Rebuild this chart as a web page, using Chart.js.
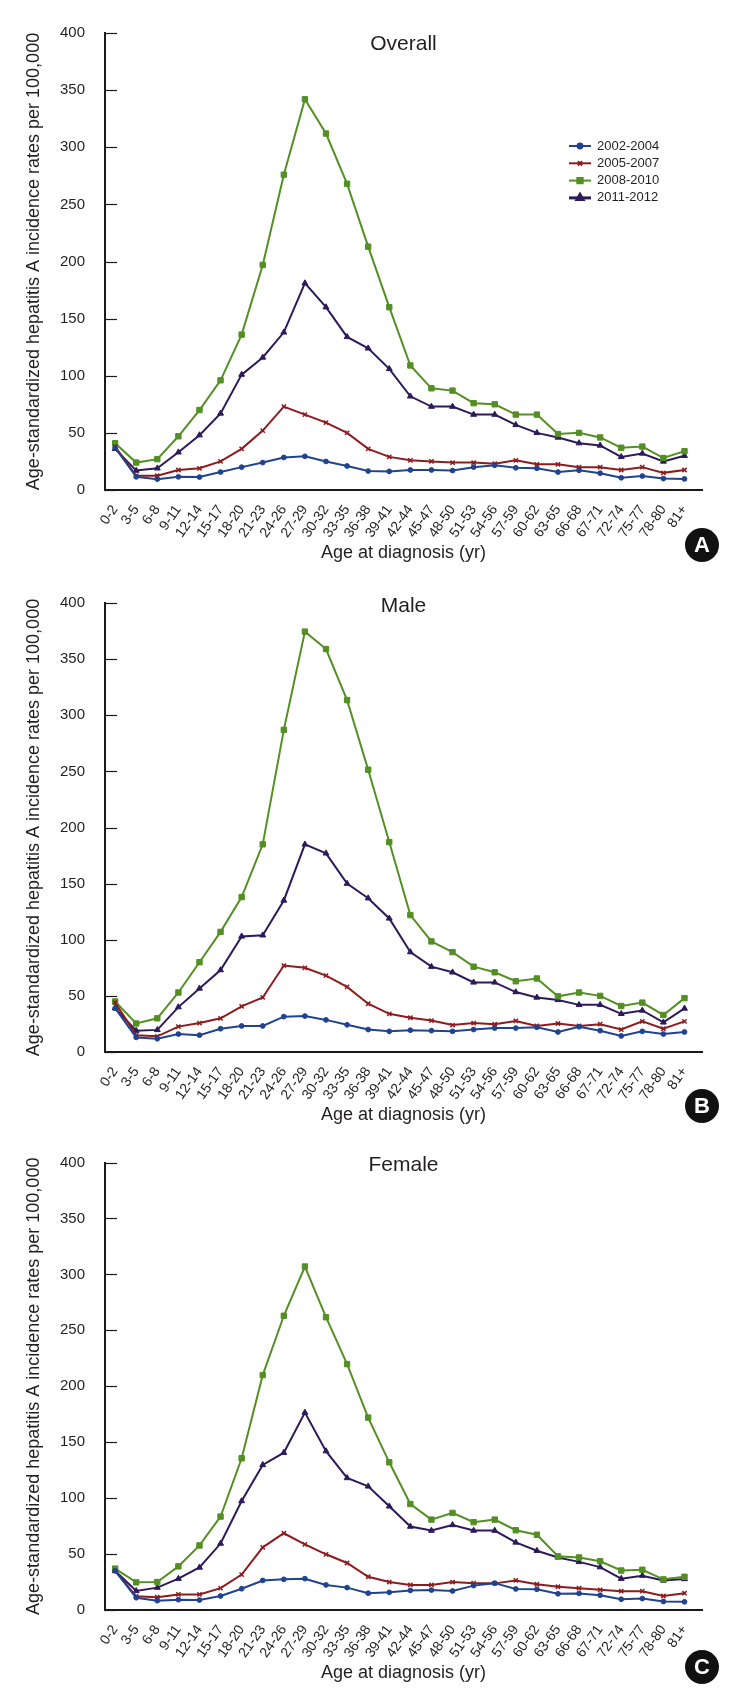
<!DOCTYPE html>
<html>
<head>
<meta charset="utf-8">
<script src="https://cdn.jsdelivr.net/npm/chart.js@4.4.1/dist/chart.umd.min.js"></script>
<style>
    body { margin: 0; background: #fff; width: 731px; height: 1699px; position: relative; overflow: hidden; }
    .panel { position: absolute; left: 0; width: 731px; }
    canvas { display: block; }
</style>
</head>
<body>
<div class="panel" style="top:0px"><canvas id="chartA" width="731" height="568"></canvas></div>
<div class="panel" style="top:568px"><canvas id="chartB" width="731" height="562"></canvas></div>
<div class="panel" style="top:1130px"><canvas id="chartC" width="731" height="558"></canvas></div>
<script>
const ageGroups = ['0-2', '3-5', '6-8', '9-11', '12-14', '15-17', '18-20', '21-23', '24-26', '27-29',
    '30-32', '33-35', '36-38', '39-41', '42-44', '45-47', '48-50', '51-53', '54-56', '57-59',
    '60-62', '63-65', '66-68', '67-71', '72-74', '75-77', '78-80', '81+'];
const periods = ['2002-2004', '2005-2007', '2008-2010', '2011-2012'];
const yMax = 400;
const yStep = 50;

// Overall
const overall2002 = [37, 11.5, 9.5, 11.5, 11.3, 15.7, 20, 24, 28.5, 29.5, 25, 21, 16.6, 16.3, 17.5, 17.5, 17, 20, 21.6, 19.4, 19, 15.7, 17.2, 14.7, 10.7, 12.2, 10, 9.7];
const overall2005 = [38, 12.5, 12.5, 17.5, 19, 25, 36, 52, 73, 66, 59, 50, 36, 29, 26, 25, 24, 24, 23, 26, 22.5, 22.5, 20, 20, 17.5, 20, 15, 17.5];
const overall2008 = [41, 24, 27, 47, 70, 96, 136, 197, 276, 342, 312, 268, 213, 160, 109, 89, 87, 76, 75, 66, 66, 49, 50, 46, 37, 38, 28, 34];
const overall2011 = [36, 17, 19, 33, 48, 67, 101, 116, 138, 181, 160, 134, 124, 106, 82, 73, 73, 66, 66, 57, 50, 46, 41, 39, 29, 32, 25, 30];

// Male
const male2002 = [39, 13, 11.8, 16, 15, 20.7, 23.2, 23.2, 31.5, 32, 28.6, 24.2, 20, 18.4, 19.4, 19, 18.4, 20, 21.3, 21.3, 22, 17.8, 22.5, 19, 14.3, 18.4, 16, 17.8];
const male2005 = [44, 15, 14, 22.6, 25.8, 30, 40.7, 48.6, 77, 75, 68, 58, 43, 34, 30.5, 28, 24, 25.8, 24.8, 27.7, 23.2, 25.4, 23.2, 24.8, 20, 27.3, 20.7, 27.3];
const male2008 = [45, 25.4, 30, 53, 80, 107, 138, 185, 287, 374.5, 359, 313.5, 251.5, 187, 122, 98.5, 89, 76, 71, 63, 65.5, 49.6, 53, 50, 41, 44, 33, 48];
const male2011 = [39, 19, 19.7, 40, 56.6, 73, 103, 104, 135, 185, 177, 150, 137, 119, 89, 76, 71, 62, 62, 53.4, 48.6, 46.4, 42, 42, 34, 37, 26.4, 38.8];

// Female
const female2002 = [35, 11, 8.3, 9.2, 8.9, 12.5, 19, 26.4, 27.4, 28, 22.4, 20, 15, 15.8, 17.5, 17.8, 17, 21.8, 24, 18.8, 18.5, 14.5, 14.8, 13.2, 9.6, 10.2, 7.6, 7.3];
const female2005 = [35, 12.2, 11.5, 13.9, 13.9, 19.5, 31.7, 56, 68.6, 58.7, 49.8, 42, 29.7, 25, 22.4, 22.4, 25, 24, 23.8, 26.4, 23, 20.8, 19.5, 18, 16.8, 16.8, 12.5, 15];
const female2008 = [37, 24.7, 25, 39, 57.7, 83.5, 135.6, 210, 263, 307, 261.7, 219.8, 172, 132, 94.7, 80.8, 86.8, 78.5, 80.8, 71.3, 67.3, 48, 47, 43.6, 35.3, 36, 27.4, 29.7];
const female2011 = [35, 17, 20, 28, 38, 59.4, 97.4, 129.7, 140.6, 176.5, 142, 118, 110.5, 92.7, 74.6, 71, 76, 71, 71, 60.4, 53, 47, 43, 38.3, 28, 30.7, 26.4, 27.7];

const seriesStyle = [
    { color: '#1f4390', pointStyle: 'circle', radius: 2.4, pointWidth: 1 },
    { color: '#8e1b1e', pointStyle: 'crossRot', radius: 3, pointWidth: 1.5 },
    { color: '#548f24', pointStyle: 'rect', radius: 3.8, pointWidth: 1 },
    { color: '#2c1a5a', pointStyle: 'triangle', radius: 3.4, pointWidth: 1 },
];

const FONT = '"Liberation Sans", Arial, sans-serif';
const TEXT = '#231f20';
Chart.defaults.font.family = FONT;
Chart.defaults.color = TEXT;

const panelDecor = {
    id: 'panelDecor',
    afterDatasetsDraw(chart, args, opts) {
        const { ctx, chartArea, scales: { y } } = chart;
        ctx.save();
        // short inward ticks on the y axis
        ctx.strokeStyle = '#1a1a1a';
        ctx.lineWidth = 1.2;
        y.ticks.forEach(t => {
            const py = Math.round(y.getPixelForValue(t.value)) + 0.5;
            ctx.beginPath();
            ctx.moveTo(chartArea.left, py);
            ctx.lineTo(chartArea.left + 12, py);
            ctx.stroke();
        });

        ctx.fillStyle = TEXT;
        ctx.font = '21px ' + FONT;
        ctx.textAlign = 'center';
        ctx.textBaseline = 'middle';
        ctx.fillText(opts.title, (chartArea.left + chartArea.right) / 2, opts.titleY);

        if (opts.legend) {
            chart.data.datasets.forEach((ds, i) => {
                const ly = 146 + i * 17.3;
                ctx.strokeStyle = ds.borderColor;
                ctx.lineWidth = i === 3 ? 3 : 2;
                ctx.beginPath();
                ctx.moveTo(569, ly);
                ctx.lineTo(591, ly);
                ctx.stroke();
                ctx.fillStyle = ds.borderColor;
                Chart.helpers.drawPoint(ctx, {
                    pointStyle: ds.pointStyle, radius: ds.pointRadius, rotation: 0, borderWidth: ds.pointBorderWidth,
                }, 580, ly);
                ctx.fillStyle = TEXT;
                ctx.font = '13px ' + FONT;
                ctx.textAlign = 'left';
                ctx.fillText(ds.label, 597, ly);
            });
        }

        ctx.fillStyle = '#111';
        ctx.beginPath();
        ctx.arc(702, opts.letterY, 17, 0, Math.PI * 2);
        ctx.fill();
        ctx.fillStyle = '#fff';
        ctx.font = 'bold 22px ' + FONT;
        ctx.textAlign = 'center';
        ctx.textBaseline = 'middle';
        ctx.fillText(opts.letter, 702, opts.letterY + 1);
        ctx.restore();
    },
};

function makePanel(id, cfg, series) {
    const canvas = document.getElementById(id);
    const height = canvas.height;
    new Chart(canvas, {
        type: 'line',
        data: {
            datasets: series.map((values, i) => {
                const st = seriesStyle[i];
                return {
                    label: periods[i],
                    data: values.map((v, k) => ({ x: k, y: v })),
                    borderColor: st.color,
                    backgroundColor: st.color,
                    borderWidth: 2,
                    pointStyle: st.pointStyle,
                    pointRadius: st.radius,
                    pointBorderWidth: st.pointWidth,
                    pointBackgroundColor: st.color,
                    pointBorderColor: st.color,
                    tension: 0,
                    fill: false,
                };
            }),
        },
        options: {
            responsive: false,
            animation: false,
            events: [],
            layout: { padding: { top: cfg.top, left: 0, right: 29, bottom: 0 } },
            plugins: {
                legend: { display: false },
                tooltip: { enabled: false },
                panelDecor: cfg,
            },
            scales: {
                x: {
                    type: 'linear',
                    min: -0.48,
                    max: 27.83,
                    afterBuildTicks: s => { s.ticks = ageGroups.map((_, k) => ({ value: k })); },
                    afterFit: s => { s.height = height - cfg.bottom; },
                    grid: { display: false },
                    border: { display: true, color: '#1a1a1a', width: 2 },
                    ticks: {
                        autoSkip: false,
                        maxRotation: 55,
                        minRotation: 55,
                        padding: 4,
                        color: TEXT,
                        font: { size: 14 },
                        callback: v => ageGroups[v],
                    },
                    title: {
                        display: true,
                        text: 'Age at diagnosis (yr)',
                        color: TEXT,
                        font: { size: 18 },
                        padding: { top: 0, bottom: 4 },
                    },
                },
                y: {
                    min: 0,
                    max: yMax,
                    afterFit: s => { s.width = 105; },
                    grid: { display: false },
                    border: { display: true, color: '#1a1a1a', width: 2 },
                    ticks: { stepSize: yStep, padding: 12, color: TEXT, font: { size: 15 } },
                    title: {
                        display: true,
                        text: 'Age-standardized hepatitis A incidence rates per 100,000',
                        color: TEXT,
                        font: { size: 18 },
                        padding: { top: 23, bottom: 0 },
                    },
                },
            },
        },
        plugins: [panelDecor],
    });
}

makePanel('chartA', { top: 33, bottom: 490, title: 'Overall', titleY: 44.6, legend: true, letter: 'A', letterY: 545 },
    [overall2002, overall2005, overall2008, overall2011]);
makePanel('chartB', { top: 35, bottom: 484, title: 'Male', titleY: 38.5, legend: false, letter: 'B', letterY: 538 },
    [male2002, male2005, male2008, male2011]);
makePanel('chartC', { top: 32.5, bottom: 480, title: 'Female', titleY: 35, legend: false, letter: 'C', letterY: 537 },
    [female2002, female2005, female2008, female2011]);
</script>
</body>
</html>
